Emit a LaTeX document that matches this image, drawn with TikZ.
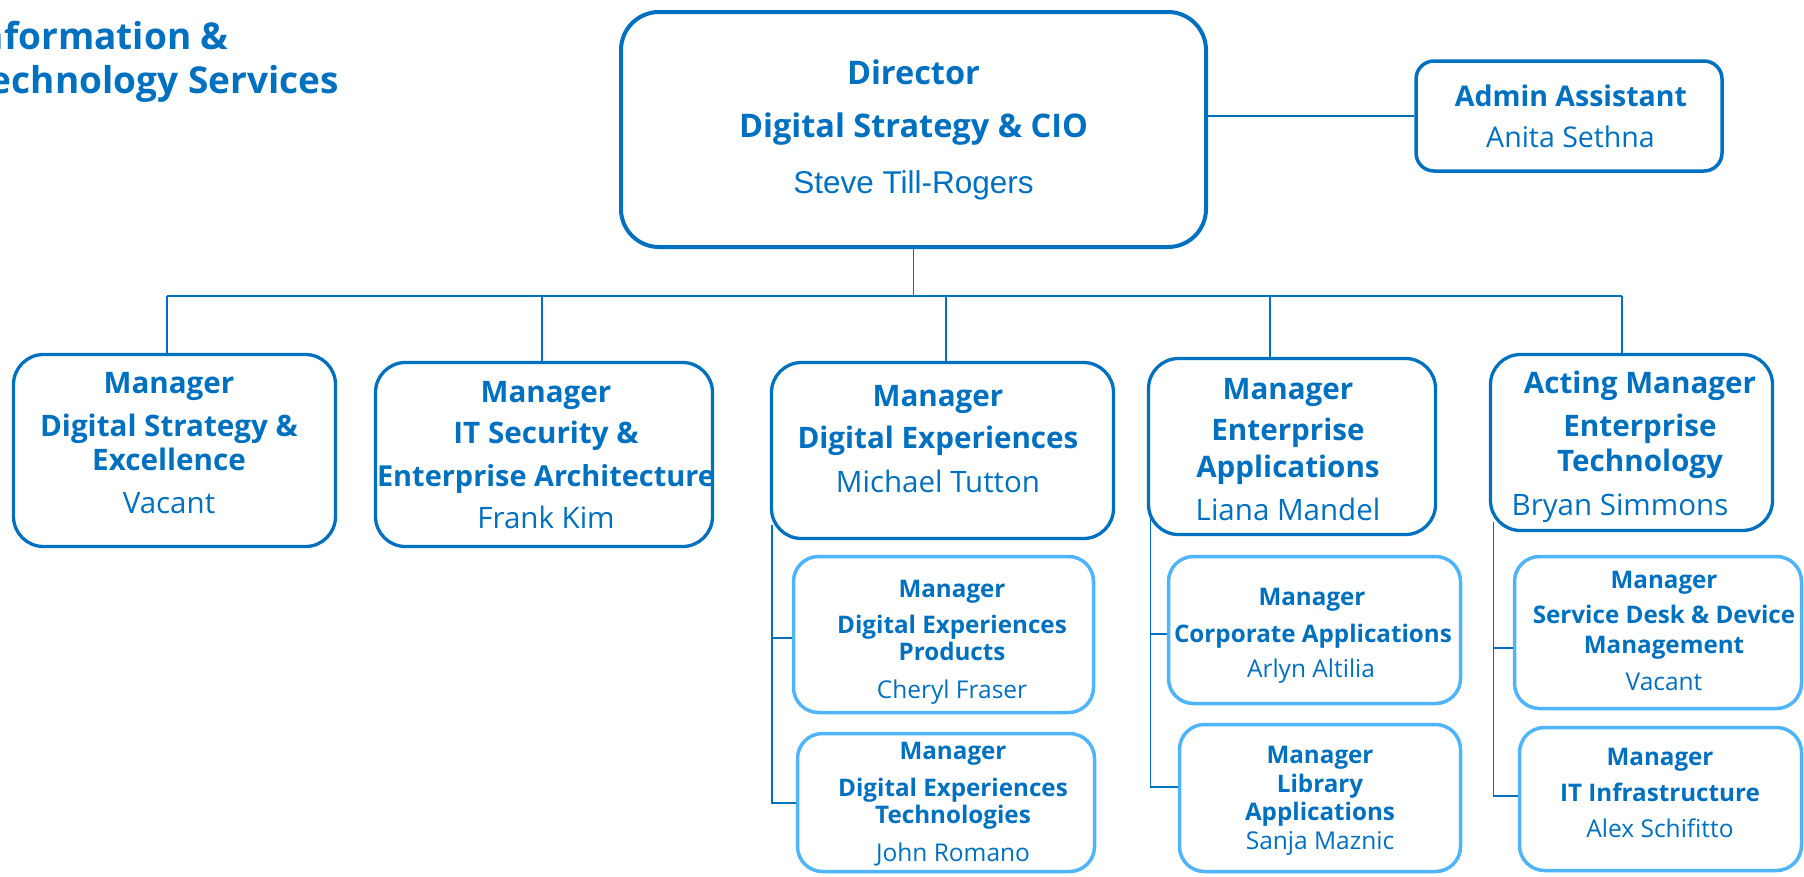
\documentclass[tikz,border=0pt]{standalone}
\usepackage{fontspec}
\setmainfont{Open Sans}
\newfontfamily\arialf{Liberation Sans}
\definecolor{dblue}{HTML}{0070C0}
\definecolor{lblue}{HTML}{50B4FA}
\definecolor{tblue}{HTML}{0070C0}
\newcommand\fsz[1]{\fontsize{#1}{#1}\selectfont}
\tikzset{
  dirbox/.style={draw=dblue, line width=4pt, rounded corners=38pt, inner sep=0pt},
  admbox/.style={draw=dblue, line width=3.5pt, rounded corners=18pt, inner sep=0pt},
  mgrbox/.style={draw=dblue, line width=3.3pt, rounded corners=30pt, inner sep=0pt},
  subbox/.style={draw=lblue, line width=3.5pt, rounded corners=25pt, inner sep=0pt},
  txt/.style={inner sep=0pt, anchor=base, text=tblue},
  ttl/.style={txt, font=\bfseries\fsz{37}},
  dirb/.style={txt, font=\bfseries\fsz{32.5}},
  dirn/.style={txt, font=\arialf\fsz{31.5}},
  admb/.style={txt, font=\bfseries\fsz{28.5}},
  admn/.style={txt, font=\fsz{28.5}},
  mb/.style={txt, font=\bfseries\fsz{29.6}},
  mn/.style={txt, font=\fsz{29.5}},
  sb/.style={txt, font=\bfseries\fsz{24.2}},
  sn/.style={txt, font=\fsz{24.5}},
  conn/.style={draw=dblue, line width=1.6pt},
}
\begin{document}
\begin{tikzpicture}[x=1pt, y=-1pt]
\useasboundingbox (0,0) rectangle (1804,876);
\clip (0,0) rectangle (1804,876);
\fill[white] (0,0) rectangle (1804,876);

% title
\node[ttl, anchor=base east] (title1) at (229,49) {Information \&};
\node[ttl, anchor=base east] (title2) at (339,93) {Technology Services};

% director
\node[dirbox, minimum width=585pt, minimum height=235pt] (dir) at (913.5,129.5) {};
\node[dirb] (dirA) at (913.5,84) {Director};
\node[dirb] (dirB) at (913.5,137) {Digital Strategy \& CIO};
\node[dirn] (dirC) at (913.5,193) {Steve Till-Rogers};

% admin
\node[admbox, minimum width=306pt, minimum height=110pt] (adm) at (1569,116) {};
\node[admb] (admA) at (1571,106) {Admin Assistant};
\node[admn] (admB) at (1570.5,147) {Anita Sethna};
\draw[conn] (adm.west) -- (adm.west -| dir.east);

% level 2 boxes
\node[mgrbox, minimum width=322pt, minimum height=192pt] (m1) at (174.5,450.5) {};
\node[mb] (m1a) at (169,393) {Manager};
\node[mb] (m1b) at (169,436) {Digital Strategy \&};
\node[mb] (m1c) at (169,470) {Excellence};
\node[mn] (m1d) at (169,513) {Vacant};

\node[mgrbox, minimum width=337pt, minimum height=184pt] (m2) at (544,454.5) {};
\node[mb] (m2a) at (546,402) {Manager};
\node[mb] (m2b) at (546,443) {IT Security \&};
\node[mb, font=\bfseries\fsz{28.9}] (m2c) at (546,486) {Enterprise Architecture};
\node[mn] (m2d) at (546,528) {Frank Kim};

\node[mgrbox, minimum width=342pt, minimum height=176pt] (m3) at (942.5,450.5) {};
\node[mb] (m3a) at (938,406) {Manager};
\node[mb] (m3b) at (938,448) {Digital Experiences};
\node[mn] (m3c) at (938,492) {Michael Tutton};

\node[mgrbox, minimum width=287pt, minimum height=176pt] (m4) at (1292,446.5) {};
\node[mb] (m4a) at (1288,399) {Manager};
\node[mb] (m4b) at (1288,440) {Enterprise};
\node[mb] (m4c) at (1288,477) {Applications};
\node[mn] (m4d) at (1288,520) {Liana Mandel};

\node[mgrbox, minimum width=282pt, minimum height=176pt] (m5) at (1631.5,442.5) {};
\node[mb] (m5a) at (1640,393) {Acting Manager};
\node[mb] (m5b) at (1640,436) {Enterprise};
\node[mb] (m5c) at (1640,471) {Technology};
\node[mn] (m5d) at (1620,515) {Bryan Simmons};

% bus
\coordinate (b0) at (913.5,296);
\coordinate (b1) at (167,296);
\coordinate (b2) at (542,296);
\coordinate (b3) at (946,296);
\coordinate (b4) at (1270,296);
\coordinate (b5) at (1622,296);
\draw[conn] (dir.south) -- (b0);
\draw[conn] (b1) -- (b5);
\draw[conn] (b1) -- (b1 |- m1.north);
\draw[conn] (b2) -- (b2 |- m2.north);
\draw[conn] (b3) -- (b3 |- m3.north);
\draw[conn] (b4) -- (b4 |- m4.north);
\draw[conn] (b5) -- (b5 |- m5.north);

% level 3 boxes under m3
\node[subbox, minimum width=300pt, minimum height=156pt] (s3a) at (943.5,634.5) {};
\node[sb] (s3a1) at (952,597) {Manager};
\node[sb] (s3a2) at (952,633) {Digital Experiences};
\node[sb] (s3a3) at (952,660) {Products};
\node[sn] (s3a4) at (952,698) {Cheryl Fraser};

\node[subbox, minimum width=297pt, minimum height=138pt] (s3b) at (946,802.5) {};
\node[sb] (s3b1) at (953,759) {Manager};
\node[sb] (s3b2) at (953,796) {Digital Experiences};
\node[sb] (s3b3) at (953,823) {Technologies};
\node[sn] (s3b4) at (953,861) {John Romano};

% level 3 boxes under m4
\node[subbox, minimum width=292pt, minimum height=147pt] (s4a) at (1314.5,630) {};
\node[sb] (s4a1) at (1312,605) {Manager};
\node[sb] (s4a2) at (1313,642) {Corporate Applications};
\node[sn] (s4a3) at (1311,677) {Arlyn Altilia};

\node[subbox, minimum width=281pt, minimum height=147pt] (s4b) at (1320,798) {};
\node[sb] (s4b1) at (1320,763) {Manager};
\node[sb] (s4b2) at (1320,792) {Library};
\node[sb] (s4b3) at (1320,820) {Applications};
\node[sn] (s4b4) at (1320,849) {Sanja Maznic};

% level 3 boxes under m5
\node[subbox, minimum width=287pt, minimum height=152pt] (s5a) at (1658,632.5) {};
\node[sb] (s5a1) at (1664,588) {Manager};
\node[sb] (s5a2) at (1664,623) {Service Desk \& Device};
\node[sb] (s5a3) at (1664,653) {Management};
\node[sn] (s5a4) at (1664,690) {Vacant};

\node[subbox, minimum width=282pt, minimum height=143pt] (s5b) at (1660.5,799) {};
\node[sb] (s5b1) at (1660,765) {Manager};
\node[sb] (s5b2) at (1660,801) {IT Infrastructure};
\node[sn] (s5b3) at (1660,837) {Alex Schifitto};

% level 3 connectors
\coordinate (v3t) at (772,525);
\coordinate (v3a) at (772,638);
\coordinate (v3b) at (772,803);
\draw[conn] (v3t) -- (v3b) -- (v3b -| s3b.west);
\draw[conn] (v3a) -- (v3a -| s3a.west);

\coordinate (v4t) at (1150.5,510);
\coordinate (v4a) at (1150.5,634);
\coordinate (v4b) at (1150.5,787);
\draw[conn] (v4t) -- (v4b) -- (v4b -| s4b.west);
\draw[conn] (v4a) -- (v4a -| s4a.west);

\coordinate (v5t) at (1493.5,522);
\coordinate (v5a) at (1493.5,648);
\coordinate (v5b) at (1493.5,796);
\draw[conn] (v5t) -- (v5b) -- (v5b -| s5b.west);
\draw[conn] (v5a) -- (v5a -| s5a.west);
\end{tikzpicture}
\end{document}
